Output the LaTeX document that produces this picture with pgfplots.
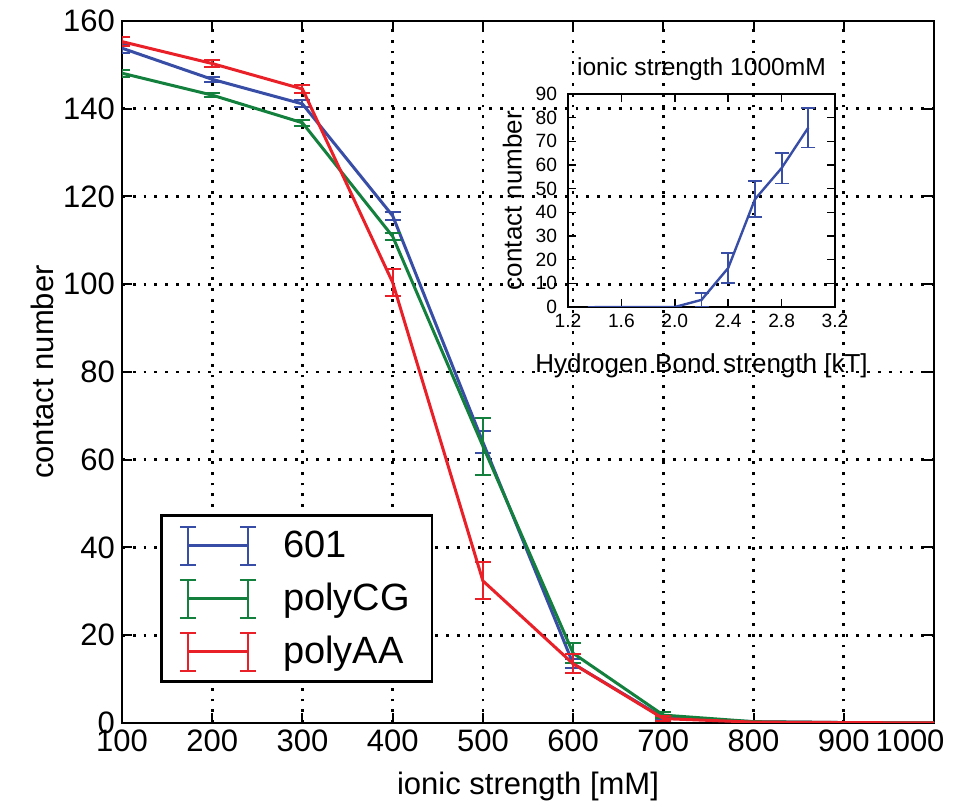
\documentclass[border=0pt]{standalone}
\usepackage{pgfplots}
\pgfplotsset{compat=1.18}
\usepackage{fontspec}
\setmainfont{Liberation Sans}
\definecolor{cblue}{RGB}{56,78,166}
\definecolor{cgreen}{RGB}{20,128,62}
\definecolor{cred}{RGB}{234,32,40}
\begin{document}
\begin{tikzpicture}
\path[use as bounding box] (-61pt,-41.5pt) rectangle (417pt,361.5pt);
\begin{axis}[
  scale only axis, width=406pt, height=351pt,
  at={(0,0)}, anchor=south west,
  xmin=100, xmax=1000, ymin=0, ymax=160,
  xtick={100,200,...,1000}, ytick={0,20,...,160},
  xticklabels={100,200,300,400,500,600,700,800,900,{\hspace*{-24pt}1000}},
  /pgf/number format/assume math mode=true,
  /pgf/number format/1000 sep={},
  tick label style={font=\fontsize{15.5}{18}\selectfont},
  label style={font=\fontsize{15.5}{18}\selectfont},
  xlabel={ionic strength [mM]}, ylabel={contact number},
  xlabel style={yshift=-3pt}, ylabel style={yshift=-2pt},
  axis line style={line width=1.3pt},
  tick style={black, line width=1pt}, major tick length=5pt,
  tick align=inside,
  grid=major, grid style={black, line width=1.3pt, dash pattern=on 1.4pt off 4pt},
  every axis plot/.append style={line width=1.5pt},
  error bars/error bar style={line width=1pt},
  error bars/error mark options={line width=1pt, mark size=4pt, rotate=90},
  legend style={at={(0.0468,0.057)}, anchor=south west, line width=1.3pt, draw=black,
    font=\fontsize{19}{22}\selectfont, inner xsep=9pt, inner ysep=5pt, row sep=6.5pt},
  legend cell align=left,
  legend image code/.code={
    \path[draw=none, fill=none] (0pt,-9.5pt) rectangle (45.5pt,9.5pt);
    \draw[#1, line width=1.2pt] (0pt,0pt) -- (30pt,0pt);
    \draw[#1, line width=1pt] (0pt,-9.5pt) -- (0pt,9.5pt);
    \draw[#1, line width=1pt] (30pt,-9.5pt) -- (30pt,9.5pt);
    \draw[#1, line width=1pt] (-4pt,9.5pt) -- (4pt,9.5pt);
    \draw[#1, line width=1pt] (-4pt,-9.5pt) -- (4pt,-9.5pt);
    \draw[#1, line width=1pt] (26pt,9.5pt) -- (34pt,9.5pt);
    \draw[#1, line width=1pt] (26pt,-9.5pt) -- (34pt,-9.5pt);
  },
]
\addplot[cblue, error bars/.cd, y dir=both, y explicit] table[x=x, y=y, y error=e] {
x y e
100 153.8 1.0
200 146.7 0.5
300 141.1 0.8
400 115.6 0.9
500 64.0 2.5
600 13.5 1.0
700 1.2 0.4
800 0.3 0.1
900 0.1 0.0
1000 0.0 0.0
};
\addlegendentry{601}
\addplot[cgreen, error bars/.cd, y dir=both, y explicit] table[x=x, y=y, y error=e] {
x y e
100 148.1 0.8
200 143.1 0.4
300 136.8 0.7
400 110.9 0.8
500 63.1 6.5
600 15.9 2.3
700 1.8 0.6
800 0.3 0.1
900 0.1 0.0
1000 0.0 0.0
};
\addlegendentry{polyCG}
\addplot[cred, error bars/.cd, y dir=both, y explicit] table[x=x, y=y, y error=e] {
x y e
100 155.3 1.0
200 150.3 0.8
300 144.5 0.9
400 100.4 3.0
500 32.4 4.2
600 13.5 2.2
700 1.0 0.5
800 0.2 0.1
900 0.1 0.0
1000 0.0 0.0
};
\addlegendentry{polyAA}
\end{axis}
\begin{axis}[
  scale only axis, width=133.5pt, height=106.5pt,
  at={(223pt,208pt)}, anchor=south west,
  xmin=1.2, xmax=3.2, ymin=0, ymax=90,
  xtick={1.2,1.6,...,3.2}, ytick={0,10,...,90},
  xticklabel style={/pgf/number format/.cd, fixed, fixed zerofill, precision=1},
  yticklabel style={xshift=-2pt},
  /pgf/number format/assume math mode=true,
  tick label style={font=\fontsize{9.6}{11}\selectfont},
  label style={font=\fontsize{13}{15}\selectfont},
  title style={font=\fontsize{12.3}{14}\selectfont, yshift=-3pt},
  title={ionic strength 1000mM},
  xlabel={Hydrogen Bond strength [kT]}, ylabel={contact number},
  xlabel style={yshift=-6pt}, ylabel style={yshift=0pt},
  axis line style={line width=1.2pt},
  tick style={black, line width=0.8pt}, major tick length=4pt,
  tick align=inside,
  every axis plot/.append style={line width=1.2pt},
  error bars/error bar style={line width=0.9pt},
  error bars/error mark options={line width=0.9pt, mark size=3.5pt, rotate=90},
]
\addplot[cblue, error bars/.cd, y dir=both, y explicit] table[x=x, y=y, y error=e] {
x y e
1.4 0.0 0.0
1.6 0.0 0.0
1.8 0.0 0.0
2.0 0.0 0.0
2.2 3.0 2.8
2.4 16.5 6.3
2.6 45.5 7.6
2.8 58.7 6.5
3.0 75.8 8.4
};
\end{axis}
\end{tikzpicture}
\end{document}
